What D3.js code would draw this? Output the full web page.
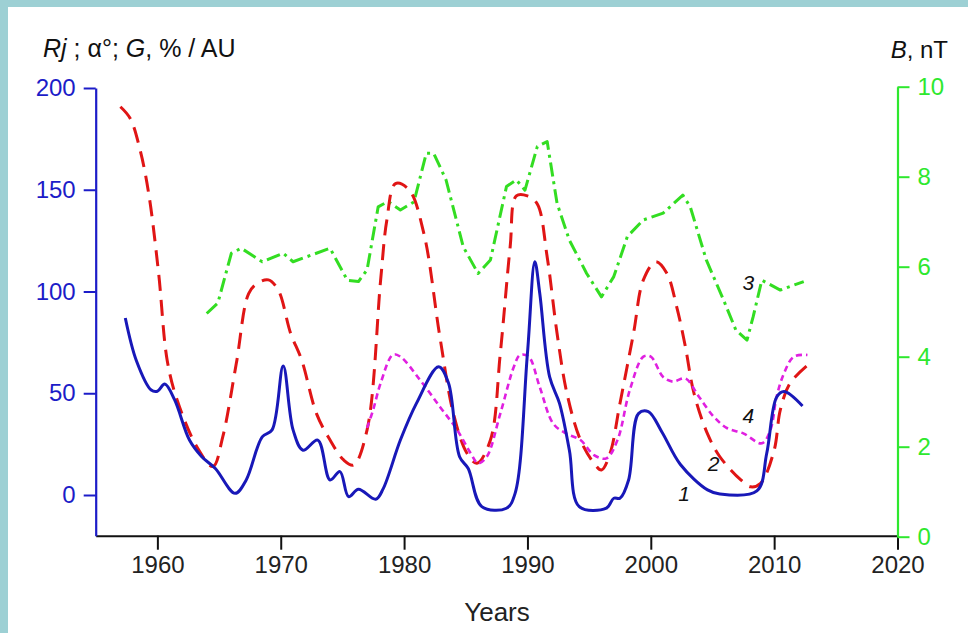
<!DOCTYPE html>
<html><head><meta charset="utf-8">
<script src="https://cdn.jsdelivr.net/npm/d3@7"></script>
<style>
html,body{margin:0;padding:0;background:#9dd0d4;}
svg{display:block;}
text{font-family:"Liberation Sans",Arial,sans-serif;}
</style></head>
<body>
<svg id="c" width="968" height="633"></svg>
<script>
// Curve 1: Rj (left axis)
const rjYears=[1957.4,1958.3,1959.5,1960.0,1960.6,1961.4,1962.6,1963.6,1964.7,1966.3,1967.2,1968.5,1969.3,1970.2,1971.0,1971.8,1973.0,1974.0,1974.8,1975.5,1976.3,1977.7,1978.3,1979.7,1981.0,1982.8,1983.6,1984.5,1985.2,1986.3,1988.3,1989.0,1990.0,1990.6,1991.0,1991.8,1992.6,1993.4,1994.2,1996.4,1997.0,1997.5,1998.2,1999.0,1999.8,2000.9,2002.4,2004.6,2005.6,2008.6,2009.4,2010.2,2010.8,2012.3];
const rjValues=[87,66,51.6,51,54.5,46.7,27,18.8,13,0.8,7.4,28.6,32,63.4,32,22,27,7.4,11.5,-0.8,2.8,-2.1,3,27,45,63,55,18.8,13,-5.7,-6.5,0.8,69.6,114.6,99,58,45,22,-5.7,-6.5,-1.6,-1.6,7.4,40,41,31,15,2.5,0.5,2,20.5,48,50.8,43.7];
// Curve 2: alpha (left axis)
const alphaYears=[1957.0,1957.8,1958.6,1959.3,1960.1,1960.8,1961.6,1963.2,1964.5,1965.3,1966.4,1967.4,1968.1,1969.0,1969.8,1970.8,1971.7,1972.9,1974.0,1975.1,1975.9,1977.0,1978.1,1978.6,1979.3,1980.4,1981.6,1982.9,1984.0,1985.1,1985.9,1987.0,1987.8,1988.6,1989.1,1990.0,1990.8,1991.6,1992.4,1993.2,1994.3,1995.4,1996.0,1996.7,1997.5,1998.6,1999.4,2000.4,2001.3,2002.1,2002.8,2003.5,2004.6,2005.6,2007.3,2008.1,2008.9,2010.0,2010.5,2011.3,2012.9];
const alphaValues=[190.8,185,169.5,148,109,66,46.7,23.7,14,28.6,64.7,99,104,105.7,100.7,79.5,66.3,40,27,17.2,14.7,32,105.7,135,153,150,128.6,77.8,40,20.5,15.6,27,69.6,122,147,147,143,117,79.5,50,27,15.6,12.3,20.5,45,79.5,105.7,114.6,109,92.5,73,50,30,18.8,7.4,4,5.7,22,41.8,55,64.7];
// Curve 3: B, nT (right axis)
const bYears=[1964.0,1964.9,1966.0,1966.8,1968.5,1970.2,1971.0,1974.0,1975.4,1976.3,1977.0,1977.9,1978.7,1979.7,1980.8,1981.8,1982.4,1983.4,1984.8,1986.0,1987.0,1988.3,1989.1,1989.8,1990.8,1991.6,1992.4,1993.4,1994.8,1996.0,1997.0,1998.1,1999.4,2001.0,2002.6,2003.2,2004.5,2005.9,2006.9,2007.8,2008.3,2009.0,2010.5,2012.4];
const bValues=[4.96,5.19,6.30,6.41,6.11,6.30,6.11,6.41,5.70,5.67,5.93,7.33,7.45,7.26,7.44,8.52,8.52,7.93,6.44,5.85,6.15,7.78,7.93,7.70,8.67,8.78,7.41,6.59,5.85,5.33,5.78,6.67,7.04,7.19,7.59,7.33,6.15,5.26,4.59,4.37,4.89,5.70,5.48,5.67];
// Curve 4: G, %/AU (left axis)
const gYears=[1977.0,1977.5,1978.1,1979.1,1979.7,1981.3,1982.9,1984.3,1985.4,1986.0,1986.7,1987.8,1988.9,1989.4,1990.1,1991.0,1992.1,1993.2,1994.3,1995.4,1996.4,1997.3,1998.3,1999.4,2000.0,2001.0,2001.8,2002.8,2003.9,2005.1,2006.2,2007.5,2009.0,2009.7,2010.2,2010.8,2011.6,2012.7];
const gValues=[33,42,55,69,68,56.5,43.4,32,20.5,15.6,18.8,40,63,68.8,68,53,35,30,27,19.6,18,27,51.6,68,68,58,55.7,57.3,48.3,38.5,32.8,30.3,25.4,32,48.3,59.8,68,68.8];

const xTicks=[1960,1970,1980,1990,2000,2010,2020];
const leftTicks=[0,50,100,150,200];
const rightTicks=[0,2,4,6,8,10];
const curveLabels=[{t:"1",year:2002.7,v:1},{t:"2",year:2005.1,v:15.7},{t:"4",year:2007.9,v:39.3},{t:"3",year:2007.9,B:5.66}];

const svg=d3.select("#c");
svg.append("rect").attr("x",8).attr("y",7).attr("width",960).attr("height",626).attr("fill","#ffffff");

const x=d3.scaleLinear().domain([1955,2020]).range([95.7,897.5]);
const yL=d3.scaleLinear().domain([-20,200]).range([535.7,88]);
const yR=d3.scaleLinear().domain([0,10]).range([536.7,86.7]);

const blue="#1c1cc8", green="#2ee82e";

// x axis
const gx=svg.append("g").attr("transform","translate(0,535.7)")
  .call(d3.axisBottom(x).tickValues(xTicks).tickFormat(d3.format("d")).tickSize(14).tickSizeOuter(0).tickPadding(6));
gx.select(".domain").attr("stroke","#111").attr("stroke-width",2);
gx.selectAll(".tick line").attr("stroke","#111").attr("stroke-width",2);
gx.selectAll(".tick text").attr("font-size",24).attr("fill","#222").attr("font-family","Liberation Sans, Arial, sans-serif");

// left axis
const gl=svg.append("g").attr("transform","translate(95.7,0)")
  .call(d3.axisLeft(yL).tickValues(leftTicks).tickSize(12).tickSizeOuter(0).tickPadding(8));
gl.select(".domain").attr("stroke",blue).attr("stroke-width",2.2);
gl.selectAll(".tick line").attr("stroke",blue).attr("stroke-width",2);
gl.selectAll(".tick text").attr("font-size",24).attr("fill",blue).attr("font-family","Liberation Sans, Arial, sans-serif");

// right axis
const gr=svg.append("g").attr("transform","translate(897.5,0)")
  .call(d3.axisRight(yR).tickValues(rightTicks).tickSize(12).tickSizeOuter(0).tickPadding(8));
gr.select(".domain").attr("stroke",green).attr("stroke-width",2.2);
gr.selectAll(".tick line").attr("stroke",green).attr("stroke-width",2);
gr.selectAll(".tick text").attr("font-size",24).attr("fill",green).attr("font-family","Liberation Sans, Arial, sans-serif");

function draw(years,vals,ys,color,dash,curve,w){
  const data=years.map((yr,i)=>[yr,vals[i]]);
  svg.append("path").datum(data)
    .attr("d",d3.line().x(d=>x(d[0])).y(d=>ys(d[1])).curve(curve))
    .attr("fill","none").attr("stroke",color).attr("stroke-width",w)
    .attr("stroke-dasharray",dash).attr("stroke-linejoin","round");
}
draw(bYears,bValues,yR,"#33dd22","14,5,3,5",d3.curveLinear,3);
draw(alphaYears,alphaValues,yL,"#e01515","16,9",d3.curveCatmullRom.alpha(0.5),3);
draw(gYears,gValues,yL,"#e020e0","6,4",d3.curveCatmullRom.alpha(0.5),2.6);
draw(rjYears,rjValues,yL,"#1818b8",null,d3.curveCatmullRom.alpha(0.5),3);

// curve number labels
curveLabels.forEach(l=>{
  svg.append("text").attr("x",x(l.year)).attr("y",(l.B!==undefined?yR(l.B):yL(l.v))+8)
    .attr("text-anchor","middle").attr("font-size",21).attr("font-style","italic").attr("fill","#111").text(l.t);
});

// axis titles
const tl=svg.append("text").attr("x",43).attr("y",57).attr("font-size",25).attr("fill","#111");
tl.append("tspan").attr("font-style","italic").text("Rj");
tl.append("tspan").text(" ; α°; ");
tl.append("tspan").attr("font-style","italic").text("G");
tl.append("tspan").text(", % / AU");

const tr=svg.append("text").attr("x",948).attr("y",58).attr("text-anchor","end").attr("font-size",24).attr("fill","#111");
tr.append("tspan").attr("font-style","italic").text("B");
tr.append("tspan").text(", nT");

svg.append("text").attr("x",497).attr("y",621).attr("text-anchor","middle").attr("font-size",26).attr("fill","#222").text("Years");
</script>
</body></html>
